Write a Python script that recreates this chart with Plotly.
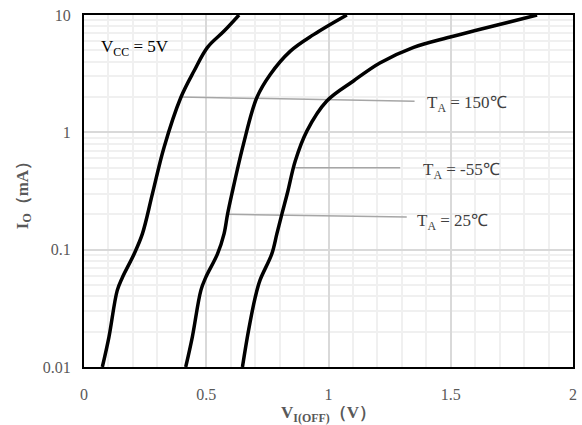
import math
import plotly.graph_objects as go

# Curve data (V_I(OFF) in V, I_O in mA)
v_150 = [0.075, 0.102, 0.136, 0.157, 0.205, 0.239, 0.28, 0.327, 0.396, 0.45, 0.505, 0.573, 0.634]
i_150 = [0.01, 0.018, 0.045, 0.058, 0.092, 0.137, 0.30, 0.74, 1.98, 3.33, 5.3, 7.3, 10]

v_25 = [0.416, 0.443, 0.478, 0.498, 0.546, 0.573, 0.587, 0.605, 0.652, 0.707, 0.761, 0.843, 0.939, 1.075]
i_25 = [0.01, 0.018, 0.045, 0.058, 0.092, 0.137, 0.2, 0.30, 0.79, 1.98, 3.1, 4.9, 6.8, 10]

v_m55 = [0.648, 0.673, 0.70, 0.72, 0.768, 0.789, 0.809, 0.833, 0.864, 0.912, 0.993, 1.102, 1.21, 1.348, 1.485, 1.621, 1.853]
i_m55 = [0.01, 0.0205, 0.039, 0.055, 0.092, 0.137, 0.2, 0.31, 0.57, 1.03, 1.85, 2.74, 3.9, 5.3, 6.4, 7.55, 10]

# Leader lines: point on curve -> label end
lead_150_x = [0.393, 1.352]
lead_150_y = [2.0, 1.84]
lead_m55_x = [0.864, 1.293]
lead_m55_y = [0.5, 0.5]
lead_25_x = [0.587, 1.32]
lead_25_y = [0.2, 0.19]

labels = ["T<sub>A</sub> = 150℃", "T<sub>A</sub> = -55℃", "T<sub>A</sub> = 25℃"]
label_x = [1.394, 1.378, 1.353]
label_y = [1.75, 0.465, 0.172]

vcc_label = "V<sub>CC</sub> = 5V"
vcc_x = 0.06
vcc_y = 5.2

y_tickvals = [0.01, 0.1, 1, 10]
y_ticktext = ["0.01", "0.1", "1", "10"]
x_tickvals = [0, 0.5, 1, 1.5, 2]
x_ticktext = ["0", "0.5", "1", "1.5", "2"]

SERIF = "Liberation Serif"

fig = go.Figure()
for lx, ly in [(lead_150_x, lead_150_y), (lead_m55_x, lead_m55_y), (lead_25_x, lead_25_y)]:
    fig.add_trace(go.Scatter(x=lx, y=ly, mode="lines",
                             line=dict(color="#a6a6a6", width=1.5), showlegend=False, hoverinfo="skip"))
for vx, iy in [(v_150, i_150), (v_25, i_25), (v_m55, i_m55)]:
    fig.add_trace(go.Scatter(x=vx, y=iy, mode="lines",
                             line=dict(color="black", width=3.5, shape="spline", smoothing=1.0),
                             showlegend=False))

for t, x, y in zip(labels, label_x, label_y):
    fig.add_annotation(x=x, y=math.log10(y), yref="y", xref="x", text=t, showarrow=False,
                       xanchor="left", yanchor="middle",
                       font=dict(family=SERIF, size=17, color="#404040"))
fig.add_annotation(x=vcc_x, y=math.log10(vcc_y), xref="x", yref="y", text=vcc_label, showarrow=False,
                   xanchor="left", yanchor="middle", font=dict(family=SERIF, size=17, color="black"))

fig.update_layout(
    width=582, height=425,
    margin=dict(l=84, r=9, t=15, b=58),
    plot_bgcolor="white", paper_bgcolor="white",
    font=dict(family=SERIF, size=14, color="#595959"),
    xaxis=dict(range=[0, 2], tickvals=x_tickvals, ticktext=x_ticktext, showgrid=True,
               gridcolor="#d9d9d9", gridwidth=1.5, automargin=False,
               minor=dict(dtick=0.1, showgrid=True, gridcolor="#f0f0f0", gridwidth=1.5),
               showline=True, linecolor="black", linewidth=2, mirror=True, zeroline=False, ticks="",
               ticklabelstandoff=12, tickfont=dict(family=SERIF, size=16, color="#595959"),
               title=dict(text="<b>V<sub>I(OFF)</sub>（V）</b>",
                          font=dict(family=SERIF, size=17, color="#595959"), standoff=4)),
    yaxis=dict(type="log", range=[-2, 1], tickvals=y_tickvals, ticktext=y_ticktext, showgrid=True,
               gridcolor="#d9d9d9", gridwidth=1.5, automargin=False,
               minor=dict(dtick="D1", showgrid=True, gridcolor="#f0f0f0", gridwidth=1.5),
               showline=True, linecolor="black", linewidth=2, mirror=True, zeroline=False, ticks="",
               ticklabelstandoff=8, tickfont=dict(family=SERIF, size=16, color="#595959"),
               title=dict(text="<b>I<sub>O</sub>（mA）</b>",
                          font=dict(family=SERIF, size=17, color="#595959"), standoff=10)),
)

fig.write_html("out.html")
